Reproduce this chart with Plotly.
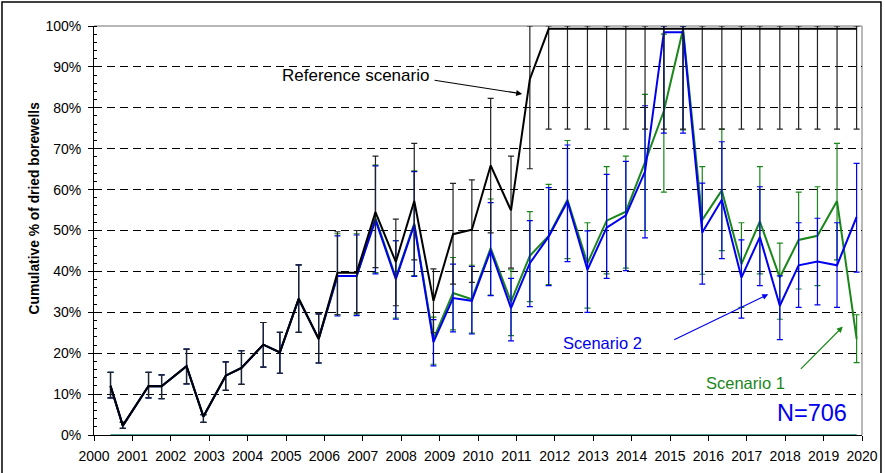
import plotly.graph_objects as go

# Observation times (decimal years)
x_time = [2000.43, 2000.75, 2001.42, 2001.76, 2002.41, 2002.85, 2003.43, 2003.84,
          2004.41, 2004.84, 2005.33, 2005.85, 2006.34, 2006.84, 2007.33, 2007.86,
          2008.34, 2008.84, 2009.35, 2009.84, 2010.33, 2010.86, 2011.35, 2011.84,
          2012.33, 2012.85, 2013.35, 2013.85, 2014.35, 2014.84, 2015.34, 2015.84,
          2016.35, 2016.86, 2017.34, 2017.86, 2018.35, 2018.84, 2019.35, 2019.86]

# Reference scenario (black)
ref_val = [12.0, 2.3, 12.0, 11.9, 16.8, 4.5, 14.5, 16.4, 22.1, 20.2, 33.3, 23.5,
           39.7, 39.7, 54.5, 42.3, 57.2, 32.8, 49.1, 50.2, 65.9, 54.9, 87.0, 99.3,
           99.3, 99.3, 99.3, 99.3, 99.3, 99.3, 99.3, 99.3, 99.3, 99.3, 99.3, 99.3,
           99.3, 99.3, 99.3, 99.3]
ref_hi = [15.3, 3.1, 15.3, 14.7, 21.0, 5.0, 17.9, 20.6, 27.5, 25.1, 41.6, 29.6,
          49.7, 50.0, 68.2, 52.8, 71.3, 40.6, 61.5, 62.4, 82.3, 68.2, 100, 100,
          100, 100, 100, 100, 100, 100, 100, 100, 100, 100, 100, 100, 100, 100, 100, 100]
ref_lo = [9.1, 1.6, 9.1, 8.9, 12.5, 3.1, 10.9, 12.4, 16.6, 15.1, 25.1, 17.6,
          29.4, 29.8, 40.9, 31.6, 42.8, 25.0, 36.9, 37.3, 49.4, 40.8, 65.1, 74.8,
          74.8, 74.8, 74.8, 74.8, 74.8, 74.8, 74.8, 74.8, 74.8, 74.8, 74.8, 74.8,
          74.8, 74.8, 74.8, 74.8]

# Scenario 2 (blue)
s2_val = [12.0, 2.3, 12.0, 11.9, 16.8, 4.5, 14.5, 16.4, 22.1, 20.2, 33.3, 23.5,
          38.9, 38.9, 52.6, 38.1, 51.4, 22.7, 33.5, 32.8, 45.1, 31.0, 42.0, 48.5,
          57.1, 40.4, 50.7, 53.7, 64.4, 98.5, 98.5, 49.5, 57.5, 38.5, 48.4, 31.6,
          41.5, 42.4, 41.5, 53.3]
s2_hi = [15.3, 3.1, 15.3, 14.7, 21.0, 5.0, 17.9, 20.6, 27.5, 25.1, 41.6, 29.6,
         48.7, 48.9, 65.8, 47.5, 64.4, 28.2, 41.8, 41.2, 56.8, 38.3, 52.4, 60.5,
         70.9, 49.9, 63.7, 66.9, 80.5, 100, 100, 61.6, 71.7, 47.7, 60.7, 38.9,
         51.9, 53.0, 51.9, 66.4]
s2_lo = [9.1, 1.6, 9.1, 8.9, 12.5, 3.1, 10.9, 12.4, 16.6, 15.1, 25.1, 17.6,
         29.1, 29.2, 39.4, 28.3, 38.8, 16.9, 25.2, 24.7, 34.1, 23.0, 31.4, 36.5,
         42.4, 30.0, 38.3, 40.2, 48.2, 73.8, 73.8, 36.9, 43.1, 28.6, 36.5, 23.3,
         31.2, 31.8, 31.2, 39.8]

# Scenario 1 (green)
s1_val = [12.0, 2.3, 12.0, 11.9, 16.8, 4.5, 14.5, 16.4, 22.1, 20.2, 33.3, 23.5,
          38.9, 38.9, 53.0, 38.5, 51.7, 23.5, 34.7, 33.2, 45.7, 32.6, 43.8, 48.7,
          57.5, 42.0, 52.4, 54.6, 66.7, 79.2, 99.2, 52.6, 59.8, 41.8, 52.2, 38.5,
          47.7, 48.7, 57.2, 23.5]
s1_hi = [15.3, 3.1, 15.3, 14.7, 21.0, 5.0, 17.9, 20.6, 27.5, 25.1, 41.6, 29.6,
         49.2, 49.2, 66.0, 47.5, 64.6, 28.8, 43.4, 41.5, 57.7, 40.4, 54.6, 61.3,
         72.0, 51.9, 65.6, 68.2, 83.3, 98.0, 100, 65.6, 74.8, 51.9, 65.6, 46.9,
         59.4, 60.7, 71.3, 29.4]
s1_lo = [9.1, 1.6, 9.1, 8.9, 12.5, 3.1, 10.9, 12.4, 16.6, 15.1, 25.1, 17.6,
         29.4, 29.4, 39.7, 28.6, 39.0, 17.3, 25.7, 24.9, 34.2, 24.3, 32.6, 36.8,
         43.1, 31.0, 39.4, 40.8, 50.0, 59.4, 74.6, 39.3, 45.1, 31.2, 39.4, 28.3,
         35.7, 36.5, 42.8, 17.7]

baseline = [0] * len(x_time)

x_ticks = list(range(2000, 2021))
y_ticks = list(range(0, 101, 10))

FONT = "Arial, Liberation Sans, sans-serif"
BLUE = "#0000ee"
GREEN = "#1b861b"


def trace(vals, hi, lo, color, barcolor, width):
    return go.Scatter(
        x=x_time, y=vals, mode="lines",
        line=dict(color=color, width=width),
        error_y=dict(type="data", symmetric=False,
                     array=[h - v for h, v in zip(hi, vals)],
                     arrayminus=[v - l for v, l in zip(vals, lo)],
                     color=barcolor, thickness=1.2, width=3),
        cliponaxis=False, hoverinfo="skip", showlegend=False)


fig = go.Figure()
fig.add_trace(go.Scatter(x=x_time, y=baseline, mode="lines",
                         line=dict(color="#4fa79a", width=2),
                         cliponaxis=False, showlegend=False))
fig.add_trace(trace(s1_val, s1_hi, s1_lo, GREEN, GREEN, 2))
fig.add_trace(trace(s2_val, s2_hi, s2_lo, BLUE, BLUE, 2))
fig.add_trace(trace(ref_val, ref_hi, ref_lo, "#000000", "#222222", 2))

fig.update_layout(
    width=885, height=473,
    margin=dict(l=94, r=23, t=26, b=38),
    paper_bgcolor="white", plot_bgcolor="white",
    font=dict(family=FONT, size=14, color="black"),
    showlegend=False,
    xaxis=dict(range=[2000, 2020], tickmode="array", tickvals=x_ticks,
               ticktext=[str(v) for v in x_ticks],
               ticks="outside", ticklen=5, tickcolor="black",
               showline=True, linecolor="black", linewidth=1,
               showgrid=False, zeroline=False, layer="below traces",
               ticklabelstandoff=3, automargin=False, tickfont=dict(size=14)),
    yaxis=dict(range=[0, 100], tickmode="array", tickvals=y_ticks,
               ticktext=[f"{v}%" for v in y_ticks],
               ticks="outside", ticklen=5, tickcolor="black",
               showline=True, linecolor="black", linewidth=1,
               showgrid=True, gridcolor="black", gridwidth=1,
               griddash="8px,5px", zeroline=False, ticklabelstandoff=4,
               automargin=False,
               minor=dict(dtick=2, ticks="inside", ticklen=3,
                          tickcolor="black", showgrid=False),
               tickfont=dict(size=14)),
)

# plot frame (gray top and right) and outer black frame
fig.add_shape(type="line", xref="paper", yref="paper", x0=0, x1=1, y0=1, y1=1,
              line=dict(color="#a0a0a0", width=1.5), layer="below")
fig.add_shape(type="line", xref="paper", yref="paper", x0=1, x1=1, y0=0, y1=1,
              line=dict(color="#a0a0a0", width=1.5), layer="below")
fig.add_shape(type="rect", xref="paper", yref="paper",
              x0=-0.1198, x1=1.0247, y0=-0.1, y1=1.0587,
              line=dict(color="black", width=1.5))

# y-axis title
fig.add_annotation(text="<b>Cumulative % of dried borewells</b>", textangle=-90,
                   xref="paper", yref="paper", x=-0.078, y=0.554,
                   xanchor="center", yanchor="middle",
                   showarrow=False, font=dict(size=13.8, family=FONT))

# labels with arrows
fig.add_annotation(text="Reference scenario", x=2006.80, y=88.0, showarrow=False,
                   font=dict(size=17, color="black"))
fig.add_annotation(text="", x=2011.15, y=83.4, ax=2008.83, ay=86.8,
                   axref="x", ayref="y", showarrow=True, arrowhead=2,
                   arrowsize=1, arrowwidth=1.2, arrowcolor="black")
fig.add_annotation(text="Scenario 2", x=2013.25, y=22.6, showarrow=False,
                   font=dict(size=16.5, color=BLUE))
fig.add_annotation(text="", x=2017.56, y=34.4, ax=2015.07, ay=23.1,
                   axref="x", ayref="y", showarrow=True, arrowhead=2,
                   arrowsize=1, arrowwidth=1.2, arrowcolor=BLUE)
fig.add_annotation(text="Scenario 1", x=2016.97, y=12.8, showarrow=False,
                   font=dict(size=16.5, color=GREEN))
fig.add_annotation(text="", x=2019.50, y=26.5, ax=2018.37, ay=15.8,
                   axref="x", ayref="y", showarrow=True, arrowhead=2,
                   arrowsize=1, arrowwidth=1.2, arrowcolor=GREEN)
fig.add_annotation(text="N=706", x=2018.69, y=5.4, showarrow=False,
                   font=dict(size=23.5, color=BLUE))

fig.write_html("out.html", config={"displayModeBar": False},
               post_script="document.body.style.margin='0';document.body.style.padding='0';")
